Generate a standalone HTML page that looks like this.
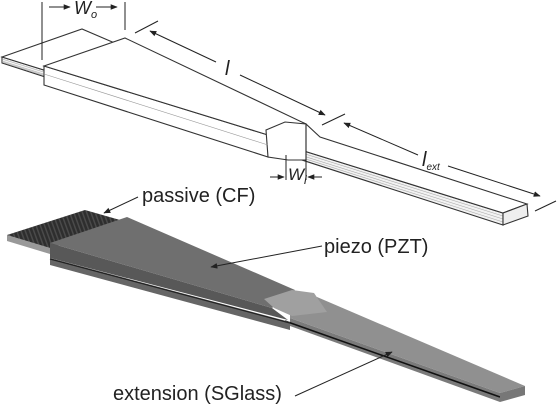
<!DOCTYPE html>
<html><head><meta charset="utf-8"><style>
html,body{margin:0;padding:0;background:#fff;width:558px;height:406px;overflow:hidden}
svg{display:block}
text{font-family:"Liberation Sans",sans-serif;fill:#222}
</style></head><body>
<svg width="558" height="406" viewBox="0 0 558 406">
<defs>
<marker id="ar" viewBox="0 0 10 10" refX="9" refY="5" markerWidth="7" markerHeight="7" orient="auto-start-reverse"><path d="M0,1 L10,5 L0,9 z" fill="#222"/></marker>
<pattern id="cf" width="4" height="4" patternUnits="userSpaceOnUse" patternTransform="rotate(-20)"><rect width="4" height="4" fill="#2e2e2e"/><rect width="1.5" height="4" fill="#4a4a4a"/></pattern>
</defs>
<!-- TOP: line drawing -->
<g fill="#fff" stroke="#333" stroke-width="1.1">
 <polygon points="2,57 503,213 503,225 2,63" fill="#f2f2f2"/>
 <g stroke="#aaa" stroke-width="0.6"><line x1="2" y1="59" x2="503" y2="216"/><line x1="2" y1="61" x2="503" y2="219"/><line x1="2" y1="62" x2="503" y2="222"/></g>
 <polygon points="2,57 82,29 110,41 306,124 320,137 527,204 503,213" />
 <polygon points="503,213 527,204 528,216 503,225" fill="#eee"/>
 <polygon points="44,66 268,135 268,157 44,85" fill="#fff"/>
 <polygon points="44,66 125,38 306,124 296,135 268,135"/>
 <polygon points="266,130 285,122 306,124 306,160 288,160 268,157" fill="#fff"/>
 <line x1="44" y1="74" x2="268" y2="145" stroke="#999" stroke-width="0.6"/>
</g>
<g stroke="#222" stroke-width="1" fill="none">
 <line x1="42" y1="2" x2="42" y2="60"/><line x1="125" y1="2" x2="125" y2="30"/>
 <line x1="49" y1="7" x2="70" y2="7" marker-end="url(#ar)"/><line x1="96" y1="7" x2="117" y2="7" marker-end="url(#ar)"/>
 <line x1="135" y1="33" x2="158" y2="21"/>
 <line x1="216" y1="62" x2="150" y2="31" marker-end="url(#ar)"/>
 <line x1="240" y1="75" x2="325" y2="115" marker-end="url(#ar)"/>
 <line x1="322" y1="125" x2="345" y2="114"/>
 <line x1="418" y1="155" x2="344" y2="123" marker-end="url(#ar)"/>
 <line x1="448" y1="166" x2="540" y2="196" marker-end="url(#ar)"/>
 <line x1="535" y1="211" x2="556" y2="201"/>
 <line x1="286" y1="155" x2="286" y2="180"/><line x1="306" y1="125" x2="306" y2="180"/>
 <line x1="270" y1="177" x2="284" y2="177" marker-end="url(#ar)"/><line x1="322" y1="177" x2="308" y2="177" marker-end="url(#ar)"/>
</g>
<text x="74" y="14" font-size="18" font-style="italic">W<tspan font-size="11" dy="4">o</tspan></text>
<text x="225" y="75" font-size="20" font-style="italic">l</text>
<text x="422" y="166" font-size="20" font-style="italic">l<tspan font-size="10" dy="4">ext</tspan></text>
<text x="288" y="180" font-size="17" font-style="italic">W<tspan font-size="12" dy="4">l</tspan></text>
<!-- BOTTOM: shaded render -->
<g>
 <polygon points="7,235 50,248 50,254 7,241" fill="#999"/>
 <polygon points="7,235 85,210 127,222 50,248" fill="url(#cf)"/>
 <polygon points="290,318 500,393 500,402 290,326" fill="#7a7a7a"/>
 <line x1="285" y1="321" x2="500" y2="397" stroke="#111" stroke-width="1.6"/>
 <polygon points="290,305 317,297 525,386 500,393 290,318" fill="#909090"/>
 <polygon points="500,393 525,386 525,395 500,402" fill="#777"/>
 <polygon points="50,258 290,322 290,330 50,265" fill="#666"/>
 <line x1="50" y1="259" x2="290" y2="323" stroke="#222" stroke-width="1.2"/>
 <polygon points="50,243 272,308 288,320 50,258" fill="#585858"/>
 <polygon points="50,243 127,217 295,290 272,308" fill="#6f6f6f"/>
 <polygon points="264,299 292,290 314,293 327,312 292,316 274,308" fill="#a0a0a0"/>
</g>
<g stroke="#222" stroke-width="1" fill="none">
 <line x1="138" y1="197" x2="104" y2="213" marker-end="url(#ar)"/>
 <line x1="322" y1="246" x2="211" y2="267" marker-end="url(#ar)"/>
 <line x1="295" y1="396" x2="392" y2="352" marker-end="url(#ar)"/>
</g>
<text x="142" y="202" font-size="20">passive (CF)</text>
<text x="324" y="253" font-size="20">piezo (PZT)</text>
<text x="113" y="400" font-size="20">extension (SGlass)</text>
</svg>
</body></html>
